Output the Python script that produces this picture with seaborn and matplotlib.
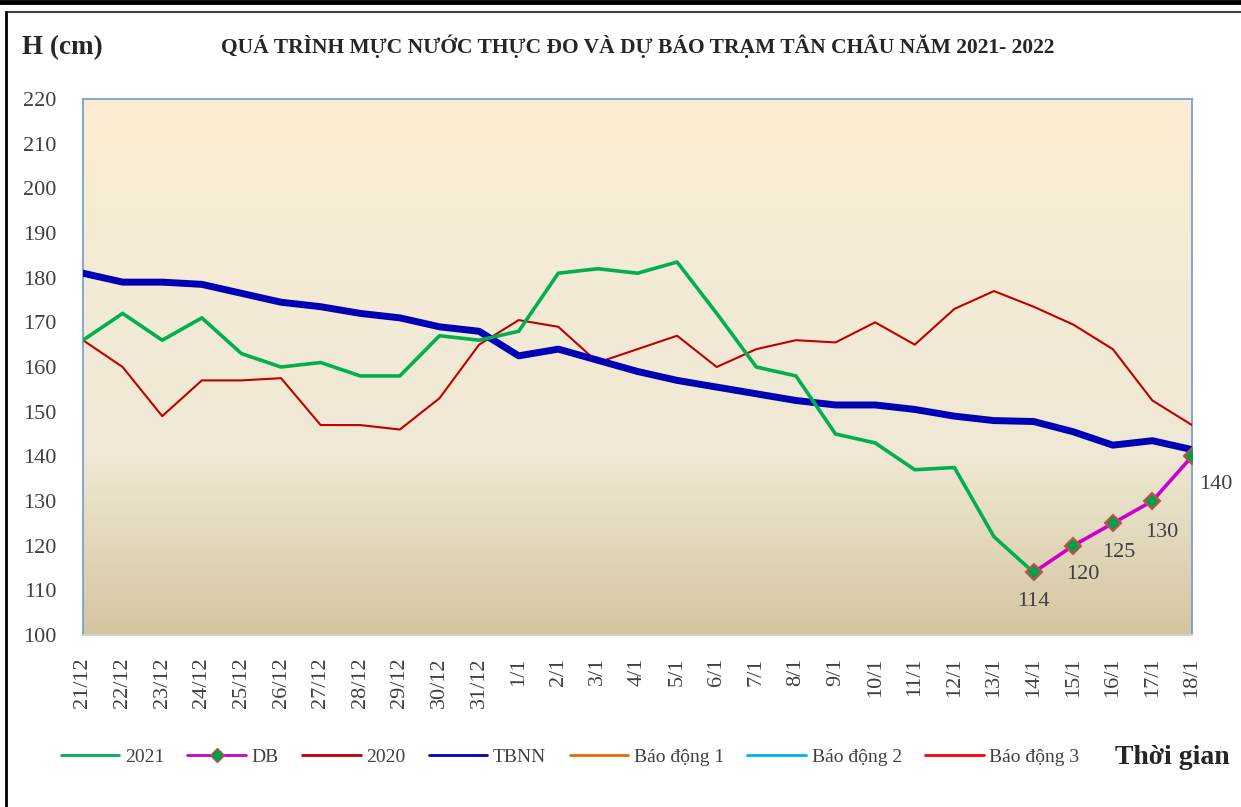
import numpy as np
import pandas as pd
import matplotlib
matplotlib.use('Agg')
import matplotlib.pyplot as plt
import seaborn as sns
from matplotlib.lines import Line2D
from matplotlib.colors import LinearSegmentedColormap

# data
dates = ['21/12', '22/12', '23/12', '24/12', '25/12', '26/12', '27/12', '28/12', '29/12',
         '30/12', '31/12', '1/1', '2/1', '3/1', '4/1', '5/1', '6/1', '7/1', '8/1', '9/1',
         '10/1', '11/1', '12/1', '13/1', '14/1', '15/1', '16/1', '17/1', '18/1']
h_2021 = [166, 172, 166, 171, 163, 160, 161, 158, 158, 167, 166, 168, 181, 182, 181,
          183.5, 172, 160, 158, 145, 143, 137, 137.5, 122, 114]
h_db = [114, 120, 125, 130, 140]
h_2020 = [166, 160, 149, 157, 157, 157.5, 147, 147, 146, 153, 165, 170.5, 169, 161, 164,
          167, 160, 164, 166, 165.5, 170, 165, 173, 177, 173.5, 169.5, 164, 152.5, 147]
h_tbnn = [181, 179, 179, 178.5, 176.5, 174.5, 173.5, 172, 171, 169, 168, 162.5, 164, 161.5,
          159, 157, 155.5, 154, 152.5, 151.5, 151.5, 150.5, 149, 148, 147.8, 145.5, 142.5,
          143.5, 141.5]

x = np.arange(len(dates))
df_2021 = pd.DataFrame({'x': x[:len(h_2021)], 'h': h_2021})
df_db = pd.DataFrame({'x': x[len(h_2021) - 1:], 'h': h_db})
df_2020 = pd.DataFrame({'x': x, 'h': h_2020})
df_tbnn = pd.DataFrame({'x': x, 'h': h_tbnn})

sns.set_style('white')
plt.rcParams['font.family'] = ['Liberation Serif', 'DejaVu Serif']

fig = plt.figure(figsize=(12.41, 8.07), dpi=100)
ax = fig.add_axes([83 / 1241, 1 - 635 / 807, 1109 / 1241, 536 / 807])

# gradient background
cmap = LinearSegmentedColormap.from_list('bg', ['#D5C6A1', '#EFE8D4', '#F3EBD6', '#FDEED2'])
grad = np.linspace(0, 1, 256).reshape(-1, 1)
ax.imshow(grad, cmap=cmap, aspect='auto', extent=[0, len(dates) - 1, 100, 220],
          origin='lower', zorder=0)

sns.lineplot(data=df_2020, x='x', y='h', color='#C00000', lw=1.5, ax=ax, zorder=3)
sns.lineplot(data=df_tbnn, x='x', y='h', color='#0000B4', lw=5, ax=ax, zorder=4)
sns.lineplot(data=df_2021, x='x', y='h', color='#00B050', lw=2.6, ax=ax, zorder=5)
sns.lineplot(data=df_db, x='x', y='h', color='#CC00CC', lw=2.6, ax=ax, zorder=6,
             marker='D', markersize=8, markerfacecolor='#00A04A', markeredgecolor='#C0504D',
             markeredgewidth=1.5)

label_offsets = [(0, -21), (7, -21), (4, -21), (7, -23), (17, -20)]
for xi, v, off in zip(df_db['x'], h_db, label_offsets):
    ax.annotate(str(v), (xi, v), xytext=off, textcoords='offset points',
                ha='center', va='center', fontsize=16, color='#404040', zorder=7)

ax.set_xlim(0, len(dates) - 1)
ax.set_ylim(100, 220)
ax.set_yticks(range(100, 221, 10))
ax.set_xticks(x)
ax.set_xticklabels(dates, rotation=90)
ax.tick_params(axis='y', length=0, pad=19, labelsize=16, labelcolor='#404040')
ax.tick_params(axis='x', length=0, pad=16, labelsize=16, labelcolor='#404040')
ax.set_xlabel('')
ax.set_ylabel('')
for side in ['left', 'right', 'top']:
    ax.spines[side].set_color('#6E9BD2')
    ax.spines[side].set_linewidth(1.2)
ax.spines['bottom'].set_color('#D0D0D0')
ax.spines['bottom'].set_linewidth(1.5)

fig.text(638 / 1241, 1 - 46 / 807,
         'QUÁ TRÌNH MỰC NƯỚC THỰC ĐO VÀ DỰ BÁO TRẠM TÂN CHÂU NĂM 2021- 2022',
         ha='center', va='center', fontsize=15.5, fontweight='bold', color='#262626')
fig.text(22 / 1241, 1 - 48 / 807, 'H (cm)', ha='left', va='center',
         fontsize=19.5, fontweight='bold', color='#262626')
fig.text(1230 / 1241, 1 - 757 / 807, 'Thời gian', ha='right', va='center',
         fontsize=20, fontweight='bold', color='#262626')

handles = [
    Line2D([], [], color='#00B050', lw=2),
    Line2D([], [], color='#CC00CC', lw=2, marker='D', markersize=7,
           markerfacecolor='#00A04A', markeredgecolor='#C0504D'),
    Line2D([], [], color='#C00000', lw=2),
    Line2D([], [], color='#0000B4', lw=2),
    Line2D([], [], color='#E46C0A', lw=2),
    Line2D([], [], color='#00B0F0', lw=2),
    Line2D([], [], color='#FF0000', lw=2),
]
names = ['2021', 'DB', '2020', 'TBNN', 'Báo động 1', 'Báo động 2', 'Báo động 3']
fig.legend(handles, names, loc='center', bbox_to_anchor=(570 / 1241, 1 - 757 / 807),
           ncol=7, frameon=False, fontsize=14, handlelength=3.0, handletextpad=0.3,
           columnspacing=1.2, labelcolor='#404040')

# outer frame lines
fig.add_artist(Line2D([0, 1], [1 - 2 / 807, 1 - 2 / 807], color='black', lw=3.5))
fig.add_artist(Line2D([6 / 1241, 1], [1 - 12 / 807, 1 - 12 / 807], color='#404040', lw=1.5))
fig.add_artist(Line2D([6 / 1241, 6 / 1241], [0, 1 - 12 / 807], color='black', lw=2))

fig.savefig('out.png', dpi=100)
